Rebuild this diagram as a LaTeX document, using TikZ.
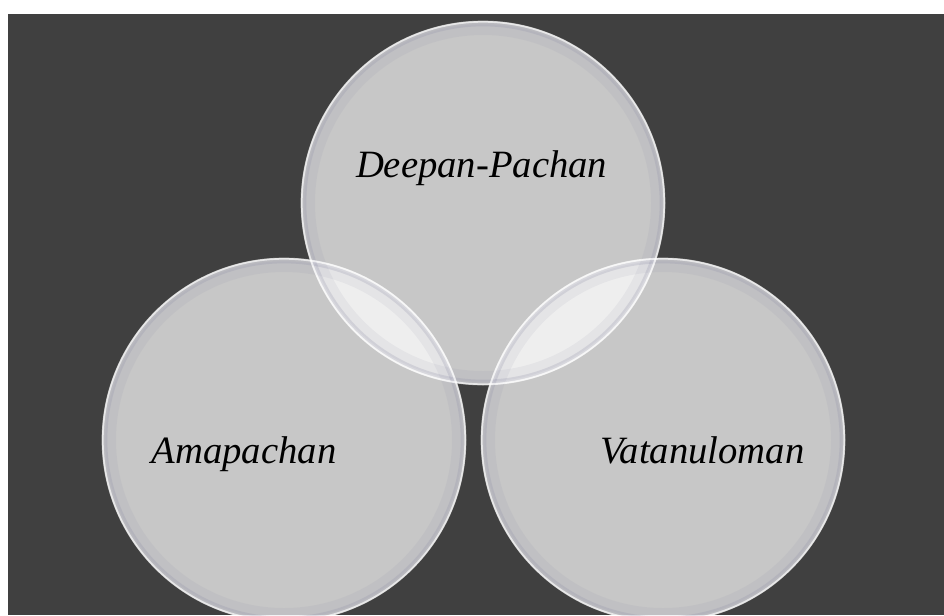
\documentclass[tikz,border=0pt]{standalone}
\usepackage{fontspec}
\setmainfont{Liberation Serif}
\usetikzlibrary{positioning}
\definecolor{vtbg}{RGB}{64,64,64}
\definecolor{vtrim}{RGB}{140,140,165}
\tikzstyle{dosha} = [circle, minimum size=273pt, inner sep=0pt, fill=white, fill opacity=0.71]
\tikzstyle{rim} = [circle, minimum size=268pt, inner sep=0pt, draw=vtrim, draw opacity=0.22, line width=3pt]
\tikzstyle{softrim} = [circle, minimum size=260pt, inner sep=0pt, draw=vtrim, draw opacity=0.1, line width=8pt]
\tikzstyle{rimline} = [circle, minimum size=272pt, inner sep=0pt, draw=white, draw opacity=0.6, line width=1.5pt]
\tikzstyle{doshatext} = [font=\itshape\fontsize{29}{34}\selectfont, text=black, anchor=base]

\begin{document}
\begin{tikzpicture}[x=0.75pt,y=-0.75pt]
\useasboundingbox (0,0) rectangle (944,615);
\fill[vtbg] (8,14) rectangle (944,615);
\node (deepan) [dosha] at (483,203) {};
\node (ama) [dosha] at (284,440) {};
\node (vata) [dosha] at (663,440) {};
% inner shading near the edges
\node (deepansoft) [softrim] at (deepan) {};
\node (amasoft) [softrim] at (ama) {};
\node (vatasoft) [softrim] at (vata) {};
\node (deepanrim) [rim] at (deepan) {};
\node (amarim) [rim] at (ama) {};
\node (vatarim) [rim] at (vata) {};
\node (deepanline) [rimline] at (deepan) {};
\node (amaline) [rimline] at (ama) {};
\node (vataline) [rimline] at (vata) {};
% labels
\node (deepantext) [doshatext, xshift=-1pt, yshift=19.5pt] at (deepan) {Deepan-Pachan};
\node (amatext) [doshatext, xshift=-30pt, yshift=-17.25pt] at (ama) {Amapachan};
\node (vatatext) [doshatext, xshift=29.6pt, yshift=-17.25pt] at (vata) {Vatanuloman};
\end{tikzpicture}
\end{document}
